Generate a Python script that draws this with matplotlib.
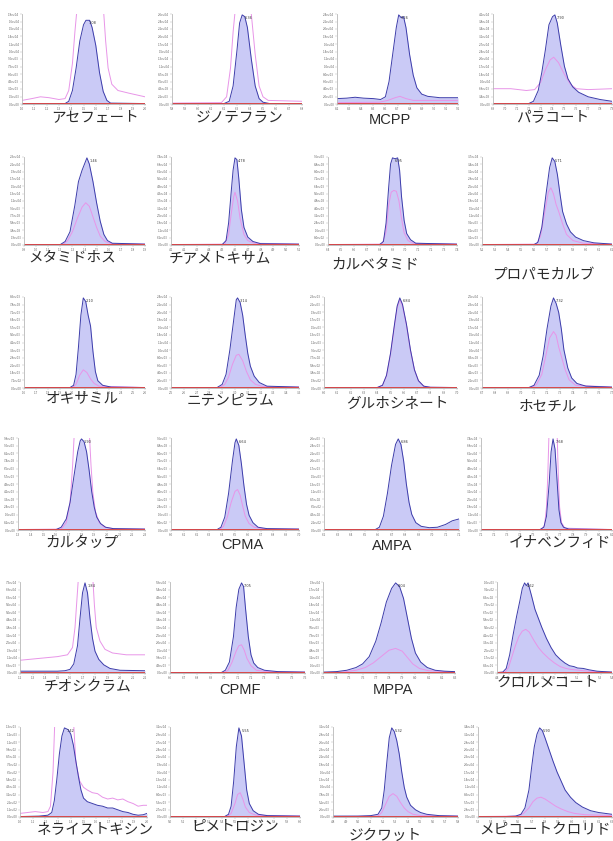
import matplotlib
matplotlib.use("Agg")
import matplotlib.pyplot as plt
from matplotlib.ticker import FuncFormatter, MultipleLocator

plt.rcParams['font.family'] = ['Noto Sans CJK JP', 'DejaVu Sans']

# --- traces: (position % of window, signal % of full scale) ---
acephate_blue = [(0, 0.5), (35, 0.5), (38, 3), (41, 15), (44, 40), (47, 70), (50, 88), (52, 93), (55, 93),
                 (57, 85), (60, 65), (63, 35), (66, 14), (69, 4), (72, 1), (100, 0.5)]
acephate_pink = [(0, 4), (8, 6), (15, 8), (22, 7), (30, 5), (35, 6), (38, 15), (41, 45), (43, 80), (45, 110),
                 (66, 110), (68, 70), (70, 40), (73, 22), (78, 15), (87, 12), (100, 8)]

dinotefuran_blue = [(0, 0.5), (40, 0.5), (44, 3), (47, 20), (50, 60), (52, 90), (54, 99), (56, 97), (58, 85),
                    (61, 50), (64, 20), (67, 6), (70, 2), (75, 0.5), (100, 0.5)]
dinotefuran_pink = [(0, 1), (38, 1.5), (42, 8), (45, 40), (47, 80), (49, 110), (59, 110), (61, 100), (64, 55),
                    (67, 20), (70, 8), (74, 4), (100, 3)]

mcpp_blue = [(0, 6), (8, 6.5), (15, 7.5), (22, 6.5), (30, 6), (36, 5), (40, 8), (43, 25), (46, 55), (49, 85),
             (51, 99), (53, 96), (55, 97), (57, 85), (60, 55), (63, 32), (66, 18), (70, 11), (75, 8.5), (85, 7),
             (100, 7)]
mcpp_pink = [(0, 1.5), (35, 2), (42, 4), (48, 7), (52, 8.5), (57, 6), (63, 4), (75, 4), (100, 4)]

paraquat_blue = [(0, 0.5), (30, 0.5), (34, 3), (38, 15), (41, 35), (44, 60), (47, 88), (50, 97), (52, 99),
                 (54, 90), (57, 65), (60, 42), (63, 28), (67, 19), (72, 13), (80, 8), (90, 5), (100, 3)]
paraquat_pink = [(0, 17), (15, 17), (28, 15), (35, 16), (40, 24), (44, 38), (48, 49), (51, 52), (55, 46),
                 (60, 33), (65, 22), (70, 17), (80, 16), (100, 17)]

methamidophos_blue = [(0, 0.5), (30, 0.5), (34, 4), (38, 15), (42, 45), (45, 72), (48, 85), (50, 92), (52, 99),
                      (54, 92), (57, 72), (60, 48), (63, 27), (66, 12), (69, 5), (73, 2), (100, 1)]
methamidophos_pink = [(0, 0.5), (32, 0.5), (36, 5), (40, 15), (44, 30), (48, 43), (51, 48), (54, 44), (57, 32),
                      (60, 20), (63, 10), (67, 4), (72, 1.5), (100, 1)]

thiamethoxam_blue = [(0, 0.5), (40, 0.5), (43, 5), (45, 25), (47, 60), (48.5, 85), (50, 99), (51.5, 97),
                     (53, 75), (55, 40), (57, 20), (60, 9), (64, 4), (70, 1.5), (100, 1)]
thiamethoxam_pink = [(0, 0.5), (42, 1), (45, 12), (47, 35), (49, 55), (50, 60), (52, 50), (54, 30), (57, 12),
                     (60, 5), (65, 2), (100, 1)]

carbetamide_blue = [(0, 0.5), (40, 0.5), (43, 4), (45, 25), (47, 65), (48.5, 92), (50, 99), (52, 98), (54, 99),
                    (55.5, 85), (57, 55), (59, 28), (61, 13), (64, 6), (68, 2), (100, 1)]
carbetamide_pink = [(0, 0.5), (42, 1), (45, 15), (47, 45), (49, 60), (51, 62), (53, 61), (55, 50), (57, 30),
                    (59, 14), (62, 5), (66, 2), (100, 1)]

propamocarb_blue = [(0, 0.5), (40, 0.5), (43, 3), (46, 20), (49, 55), (52, 88), (54, 99), (56, 95), (58, 80),
                    (60, 58), (62, 38), (65, 24), (68, 15), (72, 9), (78, 5), (86, 2.5), (100, 1)]
propamocarb_pink = [(0, 0.5), (42, 1), (45, 10), (48, 35), (51, 60), (53, 65), (55, 58), (57, 46), (59, 38),
                    (62, 24), (65, 12), (70, 5), (78, 2), (100, 1)]

oxamyl_blue = [(0, 0.5), (38, 0.5), (41, 3), (43, 15), (45, 45), (47, 80), (49, 99), (51, 95), (53, 80),
               (55, 68), (57, 40), (59, 18), (61, 8), (65, 3), (72, 1), (100, 0.5)]
oxamyl_pink = [(0, 0.5), (40, 0.5), (43, 4), (46, 14), (49, 20), (52, 17), (55, 10), (58, 5), (62, 2),
               (100, 0.5)]

nitenpyram_blue = [(0, 0.5), (36, 0.5), (40, 4), (43, 15), (46, 42), (49, 75), (51, 97), (52, 99), (54, 94),
                   (56, 80), (58, 58), (60, 38), (62, 24), (65, 13), (69, 6), (75, 2), (100, 1)]
nitenpyram_pink = [(0, 0.5), (38, 0.5), (42, 4), (45, 12), (48, 26), (51, 36), (53, 37), (56, 30), (59, 18),
                   (62, 9), (66, 4), (72, 1.5), (100, 1)]

glufosinate_blue = [(0, 0.5), (40, 0.5), (44, 3), (47, 14), (50, 38), (53, 70), (55, 90), (57, 99), (59, 92),
                    (62, 70), (65, 42), (68, 20), (71, 8), (75, 2), (80, 0.8), (100, 0.5)]
glufosinate_pink = [(0, 0.5), (40, 0.5), (44, 3), (47, 13), (50, 37), (53, 68), (55, 88), (57, 97), (59, 90),
                    (62, 69), (65, 41), (68, 20), (71, 8), (75, 2), (80, 0.8), (100, 0.5)]

fosetyl_blue = [(0, 0.5), (36, 0.5), (40, 3), (44, 14), (47, 35), (50, 65), (53, 90), (55, 99), (57, 93),
                (59, 83), (61, 65), (63, 42), (66, 22), (69, 11), (73, 5), (80, 2), (100, 1)]
fosetyl_pink = [(0, 0.5), (38, 0.5), (42, 4), (46, 15), (49, 35), (52, 55), (55, 62), (57, 58), (59, 45),
                (61, 35), (64, 20), (67, 9), (72, 3), (100, 1)]

cartap_blue = [(0, 0.5), (30, 0.5), (34, 3), (38, 12), (41, 30), (44, 58), (47, 85), (49, 97), (50, 99),
               (52, 96), (54, 85), (56, 65), (58, 42), (60, 25), (62, 14), (65, 7), (69, 3), (75, 1.5), (100, 1)]
cartap_pink = [(0, 0.5), (34, 1), (38, 8), (41, 30), (43, 70), (44.5, 110), (56, 110), (57.5, 70), (59, 40),
               (61, 20), (64, 8), (68, 3), (75, 1.5), (100, 1)]

cpma_blue = [(0, 0.5), (36, 0.5), (39, 3), (42, 14), (45, 40), (48, 75), (50, 95), (51, 99), (53, 92), (55, 72),
             (57, 48), (59, 28), (61, 16), (64, 8), (68, 3), (75, 1.5), (100, 1)]
cpma_pink = [(0, 0.5), (38, 0.5), (41, 4), (44, 14), (47, 30), (50, 42), (52, 44), (54, 38), (56, 26), (58, 15),
             (61, 7), (65, 3), (72, 1.5), (100, 1)]

ampa_blue = [(0, 0.5), (38, 0.5), (41, 3), (44, 15), (47, 40), (50, 70), (53, 93), (55, 99), (57, 93), (59, 75),
             (61, 50), (63, 30), (65, 17), (68, 8), (72, 4), (78, 2.5), (84, 3), (90, 6), (95, 10), (100, 12)]
ampa_pink = [(0, 0.5), (100, 0.5)]

inabenfide_blue = [(0, 0.5), (45, 0.5), (48, 3), (50, 15), (52, 50), (53.5, 85), (55, 99), (56.5, 88), (58, 55),
                   (59.5, 22), (61, 8), (63, 3), (67, 1), (100, 0.5)]
inabenfide_pink = [(0, 0.5), (46, 0.5), (48.5, 5), (50, 25), (51, 60), (52, 110), (58, 110), (59, 60), (60, 25),
                   (61.5, 8), (64, 2), (100, 0.5)]

thiocyclam_blue = [(0, 2), (30, 2), (36, 2.5), (40, 4), (43, 10), (46, 30), (48, 60), (50, 88), (52, 99),
                   (54, 88), (56, 60), (58, 38), (60, 24), (63, 15), (67, 9), (72, 5), (80, 3), (100, 2.5)]
thiocyclam_pink = [(0, 14), (15, 16), (30, 18), (38, 20), (42, 28), (44, 50), (46, 90), (47, 110), (58, 110),
                   (59.5, 75), (61, 50), (64, 35), (68, 26), (74, 22), (85, 20), (100, 20)]

cpmf_blue = [(0, 0.5), (38, 0.5), (41, 3), (44, 12), (47, 40), (49, 72), (51, 92), (53, 99), (54.5, 95), (56, 70),
             (58, 40), (60, 20), (62, 11), (65, 6), (70, 3), (80, 1.5), (100, 1)]
cpmf_pink = [(0, 0.5), (40, 0.5), (43, 3), (46, 12), (49, 24), (51, 30), (53, 31), (55, 25), (57, 16), (60, 8),
             (64, 3), (72, 1.5), (100, 1)]

mppa_blue = [(0, 1), (10, 1.5), (18, 3), (25, 6), (30, 10), (35, 18), (40, 35), (44, 55), (48, 78), (52, 93),
             (55, 99), (58, 95), (61, 82), (64, 60), (67, 38), (70, 22), (74, 12), (79, 6), (85, 3), (92, 2),
             (100, 1.5)]
mppa_pink = [(0, 0.5), (15, 1), (25, 3), (32, 6), (38, 11), (44, 18), (50, 25), (55, 27), (60, 24), (64, 17),
             (68, 10), (73, 5), (80, 2.5), (100, 1)]

chlormequat_blue = [(0, 0.5), (5, 1), (8, 5), (11, 20), (14, 42), (17, 62), (20, 80), (22, 93), (24, 99),
                    (25.5, 96), (27, 99), (30, 85), (33, 70), (36, 60), (39, 50), (43, 38), (47, 28), (51, 20),
                    (55, 15), (59, 11), (63, 8), (67, 7), (70, 5.5), (75, 5), (80, 3.5), (87, 2), (93, 1.5),
                    (100, 1)]
chlormequat_pink = [(0, 0.5), (7, 1), (10, 6), (13, 18), (16, 30), (19, 40), (22, 46), (25, 48), (28, 45),
                    (32, 36), (36, 28), (40, 22), (45, 16), (50, 11), (55, 7), (60, 5), (64, 4), (68, 3.5),
                    (75, 2.5), (85, 1.5), (100, 1)]

nereistoxin_blue = [(0, 0.5), (15, 1), (22, 2), (25, 5), (27, 18), (29, 42), (31, 70), (33, 90), (35, 99),
                    (38, 97), (40, 92), (42, 80), (44, 62), (46, 45), (48, 30), (50, 21), (53, 17), (57, 15),
                    (61, 13), (65, 12), (69, 10), (73, 10), (77, 8), (81, 6), (85, 5), (89, 3), (93, 2),
                    (97, 2.5), (100, 4)]
nereistoxin_pink = [(0, 4), (6, 5), (12, 6), (18, 5), (22, 6), (24, 12), (26, 50), (27.5, 110), (42, 110),
                    (44, 60), (47, 40), (50, 33), (53, 30), (57, 27), (61, 26), (65, 22), (69, 20), (73, 21),
                    (77, 19), (81, 20), (85, 17), (89, 15), (93, 12), (97, 13), (100, 13)]

pymetrozine_blue = [(0, 0.5), (42, 0.5), (45, 3), (47, 12), (49, 40), (51, 78), (53, 99), (55, 90), (57, 60),
                    (59, 30), (61, 15), (64, 7), (68, 3), (75, 1.5), (100, 1)]
pymetrozine_pink = [(0, 0.5), (44, 0.5), (47, 4), (50, 15), (52, 25), (54, 27), (56, 20), (58, 11), (61, 5),
                    (66, 2), (100, 1)]

diquat_blue = [(0, 1), (20, 1), (30, 1.5), (36, 3), (39, 10), (41, 30), (43, 60), (45, 88), (47, 99), (49, 95),
               (51, 85), (53, 70), (55, 50), (57, 33), (59, 22), (62, 13), (66, 8), (70, 5), (75, 3), (85, 1.5),
               (100, 1)]
diquat_pink = [(0, 0.5), (36, 1), (39, 5), (42, 14), (45, 23), (48, 26), (51, 23), (54, 16), (57, 10), (60, 6),
               (64, 3), (70, 1.5), (100, 1)]

mepiquat_blue = [(0, 0.5), (20, 0.5), (28, 1), (32, 3), (35, 10), (38, 30), (40, 55), (42, 78), (44, 92),
                 (46, 99), (48, 96), (50, 88), (53, 75), (56, 62), (59, 50), (62, 40), (65, 30), (69, 22),
                 (73, 16), (78, 11), (84, 7), (90, 5), (100, 3)]
mepiquat_pink = [(0, 0.5), (30, 1), (34, 4), (38, 10), (41, 17), (44, 21), (47, 22), (50, 20), (54, 16),
                 (58, 12), (62, 9), (67, 6), (72, 4), (80, 2.5), (100, 1.5)]

names = ['アセフェート', 'ジノテフラン', 'MCPP', 'パラコート',
         'メタミドホス', 'チアメトキサム', 'カルベタミド', 'プロパモカルブ',
         'オキサミル', 'ニテンピラム', 'グルホシネート', 'ホセチル',
         'カルタップ', 'CPMA', 'AMPA', 'イナベンフィド',
         'チオシクラム', 'CPMF', 'MPPA', 'クロルメコート',
         'ネライストキシン', 'ピメトロジン', 'ジクワット', 'メピコートクロリド']

blue_traces = [acephate_blue, dinotefuran_blue, mcpp_blue, paraquat_blue,
               methamidophos_blue, thiamethoxam_blue, carbetamide_blue, propamocarb_blue,
               oxamyl_blue, nitenpyram_blue, glufosinate_blue, fosetyl_blue,
               cartap_blue, cpma_blue, ampa_blue, inabenfide_blue,
               thiocyclam_blue, cpmf_blue, mppa_blue, chlormequat_blue,
               nereistoxin_blue, pymetrozine_blue, diquat_blue, mepiquat_blue]
pink_traces = [acephate_pink, dinotefuran_pink, mcpp_pink, paraquat_pink,
               methamidophos_pink, thiamethoxam_pink, carbetamide_pink, propamocarb_pink,
               oxamyl_pink, nitenpyram_pink, glufosinate_pink, fosetyl_pink,
               cartap_pink, cpma_pink, ampa_pink, inabenfide_pink,
               thiocyclam_pink, cpmf_pink, mppa_pink, chlormequat_pink,
               nereistoxin_pink, pymetrozine_pink, diquat_pink, mepiquat_pink]

# retention window start (min) and full-scale counts for the tick labels
window_start = [1.0, 5.8, 8.2, 6.9, 0.9, 4.1, 6.4, 5.2, 1.6, 2.5, 6.0, 6.7,
                1.3, 6.0, 6.2, 7.1, 1.2, 6.6, 7.3, 4.4, 1.0, 5.0, 4.8, 5.3]
full_scale = [1.8e4, 2.6e4, 2.4e4, 4.1e4, 2.3e4, 7.4e4, 9.6e3, 3.7e4, 8.5e3, 2.4e4, 2.3e3, 2.5e4,
              9.8e3, 9.6e3, 2.6e3, 7.4e4, 7.5e4, 5.9e4, 1.9e4, 1.0e3, 1.3e3, 3.2e4, 3.1e4, 3.4e4]
peak_times = ['1.08', '6.36', '9.26', '7.90', '1.46', '4.78', '6.95', '5.71', '2.10', '3.14', '6.84', '7.32',
              '1.90', '6.64', '6.86', '7.68', '1.84', '7.05', '8.04', '4.62', '1.42', '5.55', '5.32', '5.90']

# panel boxes in pixels: left, right, top, bottom
rows_y = [(14, 104), (157, 245), (297, 388), (438, 530), (582, 673), (727, 817)]
cols_x = [[(22, 145), (172, 302), (337, 458), (493, 612)],
          [(24, 145), (171, 299), (328, 457), (482, 612)],
          [(24, 145), (171, 299), (324, 457), (482, 612)],
          [(18, 145), (171, 299), (324, 459), (481, 612)],
          [(20, 145), (170, 305), (323, 455), (497, 612)],
          [(20, 147), (170, 300), (333, 458), (478, 612)]]
label_xy = [(95, 117), (240, 118), (390, 120), (553, 117),
            (72, 257), (220, 258), (375, 264), (543, 276),
            (82, 398), (230, 400), (397, 404), (548, 407),
            (82, 543), (242, 545), (392, 546), (560, 543),
            (88, 687), (240, 690), (393, 690), (548, 683),
            (95, 829), (235, 826), (385, 836), (545, 829)]

W, H = 613, 841
fig = plt.figure(figsize=(W / 100, H / 100), dpi=100)

for i, name in enumerate(names):
    r, c = divmod(i, 4)
    x0, x1 = cols_x[r][c]
    y0, y1 = rows_y[r]
    ax = fig.add_axes([x0 / W, 1 - y1 / H, (x1 - x0) / W, (y1 - y0) / H])

    bx, by = zip(*blue_traces[i])
    px, py = zip(*pink_traces[i])
    ax.fill_between(bx, by, 0, color='#cacaf6', lw=0)
    ax.plot(px, py, color='#e895e8', lw=0.7)
    ax.plot(bx, by, color='#3c3caa', lw=0.7)
    ax.axhline(0.6, color='#d84848', lw=0.7)

    top = max(by)
    ax.text(bx[by.index(top)] + 2, top - 1, peak_times[i], fontsize=2.5, color='#333333',
            va='top', ha='left', family='DejaVu Sans')

    ax.set_xlim(0, 100)
    ax.set_ylim(0, 100)
    ax.xaxis.set_major_locator(MultipleLocator(10))
    ax.yaxis.set_major_locator(MultipleLocator(100 / 12))
    t0 = window_start[i]
    fs = full_scale[i]
    ax.xaxis.set_major_formatter(FuncFormatter(lambda v, p, t0=t0: f'{t0 + v / 100:.1f}'))
    ax.yaxis.set_major_formatter(FuncFormatter(lambda v, p, fs=fs: f'{v / 100 * fs:.1e}'))
    ax.tick_params(labelsize=2.2, length=1.2, width=0.3, color='#b0b0b0', labelcolor='#666666', pad=0.8)
    for s in ['top', 'right']:
        ax.spines[s].set_visible(False)
    for s in ['left', 'bottom']:
        ax.spines[s].set_color('#b8b8b8')
        ax.spines[s].set_linewidth(0.6)

    lx, ly = label_xy[i]
    fam = ['Liberation Sans', 'Noto Sans CJK JP'] if name.isascii() else ['Noto Sans CJK JP', 'DejaVu Sans']
    fig.text(lx / W, 1 - ly / H, name, fontsize=10.5, color='#2a2a2a', ha='center', va='center', family=fam)

fig.savefig('out.png', dpi=100)
